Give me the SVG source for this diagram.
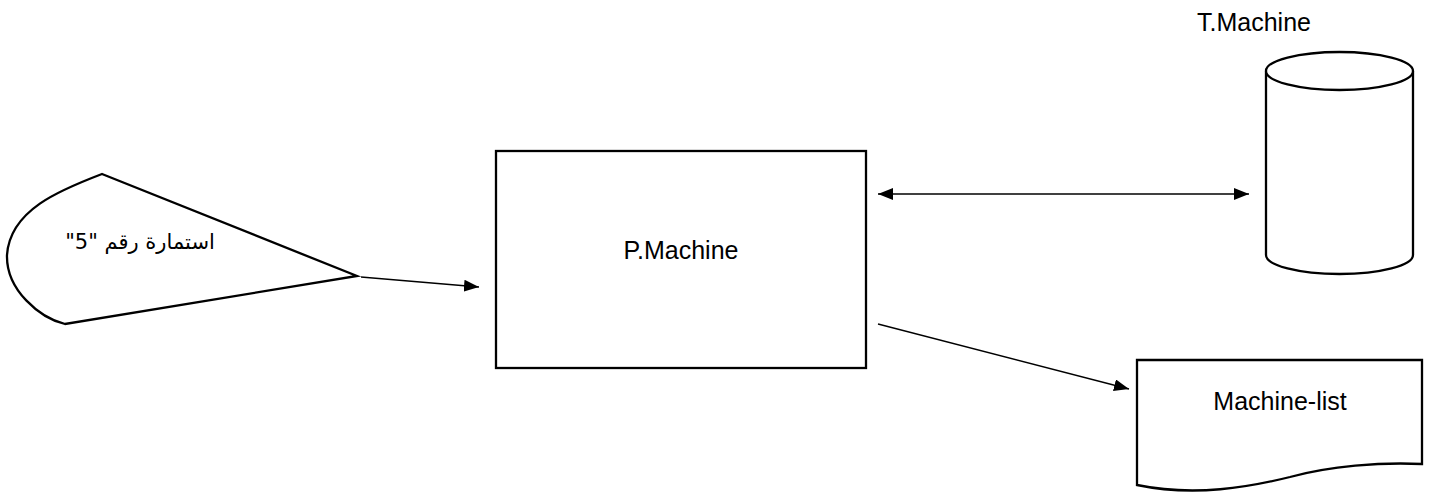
<svg xmlns="http://www.w3.org/2000/svg" width="1436" height="496" viewBox="0 0 1436 496">
<defs>
<marker id="ah" viewBox="0 0 10 10" refX="10" refY="5" markerWidth="15" markerHeight="12" markerUnits="userSpaceOnUse" orient="auto-start-reverse" preserveAspectRatio="none">
<path d="M0,0 L10,5 L0,10 Z" fill="#000"/>
</marker>
<style>
.shape{fill:#fff;stroke:#000;stroke-width:2.3}
.conn{fill:none;stroke:#000;stroke-width:1.3}
.lbl{font-family:"Liberation Sans","DejaVu Sans",sans-serif;font-size:25px;fill:#000;text-anchor:middle}
.ar{font-family:"DejaVu Sans","Noto Sans",sans-serif;font-size:21px;fill:#000;text-anchor:middle}
</style>
</defs>
<rect width="1436" height="496" fill="#fff"/>
<g id="form5">
<path class="shape" d="M102,174 L357,276 L65,324 C40,318 6,290 7,255 C10,210 60,190 102,174 Z"/>
<text class="ar" x="140" y="249" direction="rtl">استمارة رقم "5"</text>
</g>
<g id="pmachine">
<rect class="shape" x="496" y="151" width="370" height="217"/>
<text class="lbl" x="681" y="259">P.Machine</text>
</g>
<g id="tmachine">
<path class="shape" d="M1266,71 L1266,255 A73.5,19 0 0 0 1413,255 L1413,71"/>
<ellipse class="shape" cx="1339.5" cy="71" rx="73.5" ry="19"/>
<text class="lbl" x="1254" y="31">T.Machine</text>
</g>
<g id="machinelist">
<path class="shape" d="M1137,360 L1422,360 L1422,464 C1380,462 1330,466 1290,477 C1250,487 1195,497 1137,485 Z"/>
<text class="lbl" x="1280" y="410">Machine-list</text>
</g>
<g id="connectors">
<line class="conn" x1="361" y1="277" x2="479" y2="287" marker-end="url(#ah)"/>
<line class="conn" x1="878" y1="194" x2="1249" y2="194" marker-start="url(#ah)" marker-end="url(#ah)"/>
<line class="conn" x1="878" y1="324" x2="1129" y2="389" marker-end="url(#ah)"/>
</g>
</svg>
